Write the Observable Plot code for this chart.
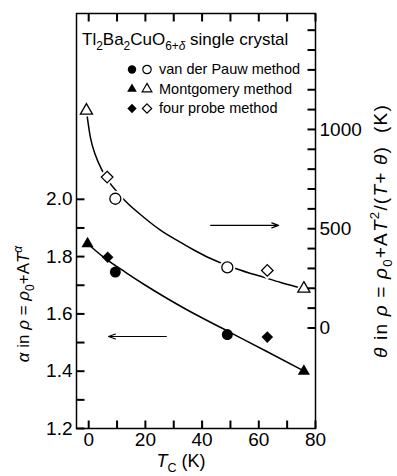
<!DOCTYPE html>
<html><head><meta charset="utf-8">
<script src="https://cdn.jsdelivr.net/npm/d3@7"></script>
<script src="https://cdn.jsdelivr.net/npm/@observablehq/plot@0.6"></script>
<style>
body{margin:0;background:#fff;}
#chart{width:397px;height:476px;}
svg{font-family:"Liberation Sans",Arial,Helvetica,sans-serif;}
</style></head><body><div id="chart"></div>
<script>
// ---- data ----
const methods = ["van der Pauw method", "Montgomery method", "four probe method"];
const methodSymbols = ["circle", "triangle", "diamond2"];

// alpha (filled symbols, left axis)
const alphaTc = [-0.4, 6.7, 9.4, 48.9, 63.0, 75.9];
const alphaValues = [1.845, 1.798, 1.746, 1.528, 1.519, 1.40];
const alphaMethod = ["Montgomery method", "four probe method", "van der Pauw method", "van der Pauw method", "four probe method", "Montgomery method"];

// theta (open symbols, right axis, K)
const thetaTc = [-0.8, 6.5, 9.4, 48.9, 63.0, 75.9];
const thetaValues = [1095, 760, 651, 305, 290, 198];
const thetaMethod = ["Montgomery method", "four probe method", "van der Pauw method", "van der Pauw method", "four probe method", "Montgomery method"];

// guide curves
const alphaFitTc = [-0.4, 5, 13, 20, 28, 34, 49, 63, 76];
const alphaFitValues = [1.845, 1.80, 1.745, 1.70, 1.652, 1.618, 1.54, 1.468, 1.40];
const thetaFitTc = [-0.8, 0.6, 2.4, 4.7, 7, 10, 13, 19.4, 25.3, 31.2, 37.1, 43, 48, 51.8, 61.8, 68, 75.9];
const thetaFitValues = [1095, 960, 870, 795, 740, 685, 638, 558, 493, 441, 393, 350, 320, 300, 255, 228, 198];

// arrows (data units: Tc, alpha)
const arrowTcFrom = [27.4, 43.0];
const arrowTcTo = [7.0, 67.0];
const arrowAlpha = [1.521, 1.909];

// ticks
const xTicks = [0, 10, 20, 30, 40, 50, 60, 70, 80];
const xTickLabels = [0, 20, 40, 60, 80];
const alphaTicks = [1.2, 1.3, 1.4, 1.5, 1.6, 1.7, 1.8, 1.9, 2.0];
const alphaTickLabels = [1.2, 1.4, 1.6, 1.8, 2.0];
const thetaTicks = [0, 100, 200, 300, 400, 500, 600, 700, 800, 900, 1000, 1100, 1200, 1300, 1400, 1500];
const thetaTickLabels = [0, 500, 1000];

// scale domains
const xDomain = [-4.3, 80];
const yDomain = [1.2, 2.6485];

// right-axis mapping onto the alpha scale
const thetaZeroAlpha = 1.5508;
const alphaPerKelvin = 0.000693;
const alphaOf = th => thetaZeroAlpha + th * alphaPerKelvin;
const thetaOf = a => (a - thetaZeroAlpha) / alphaPerKelvin;

const symbolOf = m => methodSymbols[methods.indexOf(m)];
const markerR = {circle: 5.5, triangle: 4.5, diamond2: 5.2};

const idxA = alphaTc.map((_, i) => i);
const idxT = thetaTc.map((_, i) => i);

const dotMarks = [];
for (const m of methods) {
  const s = symbolOf(m);
  const ia = idxA.filter(i => alphaMethod[i] === m);
  const it = idxT.filter(i => thetaMethod[i] === m);
  dotMarks.push(Plot.dot(it, {x: i => thetaTc[i], y: i => alphaOf(thetaValues[i]), symbol: s, r: markerR[s], fill: "white", stroke: "white", strokeWidth: 5}));
  dotMarks.push(Plot.dot(it, {x: i => thetaTc[i], y: i => alphaOf(thetaValues[i]), symbol: s, r: markerR[s], fill: "white", stroke: "black", strokeWidth: 1.3}));
  dotMarks.push(Plot.dot(ia, {x: i => alphaTc[i], y: i => alphaValues[i], symbol: s, r: markerR[s], fill: "black", stroke: "none"}));
}

const W = 397, H = 476, mL = 76, mR = 82, mT = 13, mB = 48;
const tickLen = 8;
// tick length expressed in data units of each scale
const tickDx = tickLen * (xDomain[1] - xDomain[0]) / (W - mL - mR);
const tickDy = tickLen * (yDomain[1] - yDomain[0]) / (H - mT - mB);

const tickSegs = [
  ...xTicks.map(v => ({x1: v, x2: v, y1: yDomain[0], y2: yDomain[0] + tickDy})),
  ...xTicks.map(v => ({x1: v, x2: v, y1: yDomain[1], y2: yDomain[1] - tickDy})),
  ...alphaTicks.map(v => ({x1: xDomain[0], x2: xDomain[0] + tickDx, y1: v, y2: v})),
  ...thetaTicks.map(v => ({x1: xDomain[1], x2: xDomain[1] - tickDx, y1: alphaOf(v), y2: alphaOf(v)}))
];

const plot = Plot.plot({
  width: W, height: H,
  marginLeft: mL, marginRight: mR, marginTop: mT, marginBottom: mB,
  x: {domain: xDomain, axis: null},
  y: {domain: yDomain, axis: null},
  style: {background: "white", color: "black", fontFamily: "'Liberation Sans', Arial, sans-serif"},
  marks: [
    Plot.line(alphaFitTc.map((t, i) => ({t, v: alphaFitValues[i]})), {x: "t", y: "v", curve: "monotone-x", stroke: "black", strokeWidth: 1.5}),
    Plot.line(thetaFitTc.map((t, i) => ({t, v: alphaOf(thetaFitValues[i])})), {x: "t", y: "v", curve: "monotone-x", stroke: "black", strokeWidth: 1.5}),
    ...dotMarks,
    Plot.arrow(arrowTcFrom.map((_, i) => i), {x1: i => arrowTcFrom[i], x2: i => arrowTcTo[i], y1: i => arrowAlpha[i], y2: i => arrowAlpha[i], stroke: "black", strokeWidth: 1.1, headLength: 10, headAngle: 40}),
    Plot.frame({stroke: "black", strokeWidth: 1.5}),
    Plot.link(tickSegs, {x1: "x1", x2: "x2", y1: "y1", y2: "y2", stroke: "black", strokeWidth: 2, strokeLinecap: "butt"}),
    // tick labels
    Plot.axisX({anchor: "bottom", ticks: xTickLabels, tickSize: 0, tickPadding: 4, label: null, fontSize: 19, tickFormat: d => String(d)}),
    Plot.axisY({anchor: "left", ticks: alphaTickLabels, tickSize: 0, tickPadding: 4, label: null, fontSize: 19, tickFormat: d => d.toFixed(1)}),
    Plot.axisY({anchor: "right", ticks: thetaTickLabels.map(alphaOf), tickSize: 0, tickPadding: 4, label: null, fontSize: 19, tickFormat: d => String(Math.round(thetaOf(d)))})
  ]
});
document.getElementById("chart").appendChild(plot);

const svg = d3.select(plot);

// ---- text annotations ----
function richText(x, y, parts, size, anchor = "start", rotate = 0, spacing = 0) {
  const t = svg.append("text").attr("x", x).attr("y", y).attr("font-size", size)
    .attr("text-anchor", anchor).attr("fill", "black")
    .attr("font-family", "'Liberation Sans', Arial, sans-serif");
  if (spacing) t.attr("letter-spacing", spacing);
  if (rotate) t.attr("transform", `rotate(${rotate},${x},${y})`);
  let shift = 0;
  for (const p of parts) {
    const target = p.sub ? size * 0.28 : p.sup ? -size * 0.42 : 0;
    const ts = t.append("tspan").text(p.t).attr("dy", target - shift);
    shift = target;
    if (p.sub || p.sup) ts.attr("font-size", size * 0.7);
    if (p.i) ts.attr("font-style", "italic");
  }
  return t;
}

// in-plot title
richText(82, 45, [{t: "Tl"}, {t: "2", sub: 1}, {t: "Ba"}, {t: "2", sub: 1}, {t: "CuO"}, {t: "6+", sub: 1}, {t: "δ", sub: 1, i: 1}, {t: " single crystal"}], 17);

// legend
methods.forEach((m, k) => {
  const base = 74 + k * 19.5;
  const s = symbolOf(m);
  const type = s === "circle" ? d3.symbolCircle : s === "triangle" ? d3.symbolTriangle : d3.symbolDiamond2;
  const rr = s === "circle" ? 4.2 : s === "triangle" ? 3.6 : 4.2;
  const path = d3.symbol().type(type).size(Math.PI * rr * rr)();
  svg.append("path").attr("d", path).attr("transform", `translate(132,${base - 4.5})`).attr("fill", "black");
  svg.append("path").attr("d", path).attr("transform", `translate(147,${base - 4.5})`).attr("fill", "white").attr("stroke", "black").attr("stroke-width", 1.2);
  richText(159, base, [{t: m}], 14.5);
});

// axis titles
richText(29, 304, [{t: "α", i: 1}, {t: " in "}, {t: "ρ", i: 1}, {t: " = "}, {t: "ρ", i: 1}, {t: "0", sub: 1}, {t: "+A"}, {t: "T", i: 1}, {t: "α", sup: 1, i: 1}], 17, "middle", -90);
richText(387, 231, [{t: "θ", i: 1}, {t: " in "}, {t: "ρ", i: 1}, {t: " = "}, {t: "ρ", i: 1}, {t: "0", sub: 1}, {t: "+A"}, {t: "T", i: 1}, {t: "2", sup: 1}, {t: "/("}, {t: "T", i: 1}, {t: "+ "}, {t: "θ", i: 1}, {t: ")  (K)"}], 19, "middle", -90, 1.2);
richText(181, 467, [{t: "T", i: 1}, {t: "C", sub: 1}, {t: " (K)"}], 18, "middle");
</script></body></html>
